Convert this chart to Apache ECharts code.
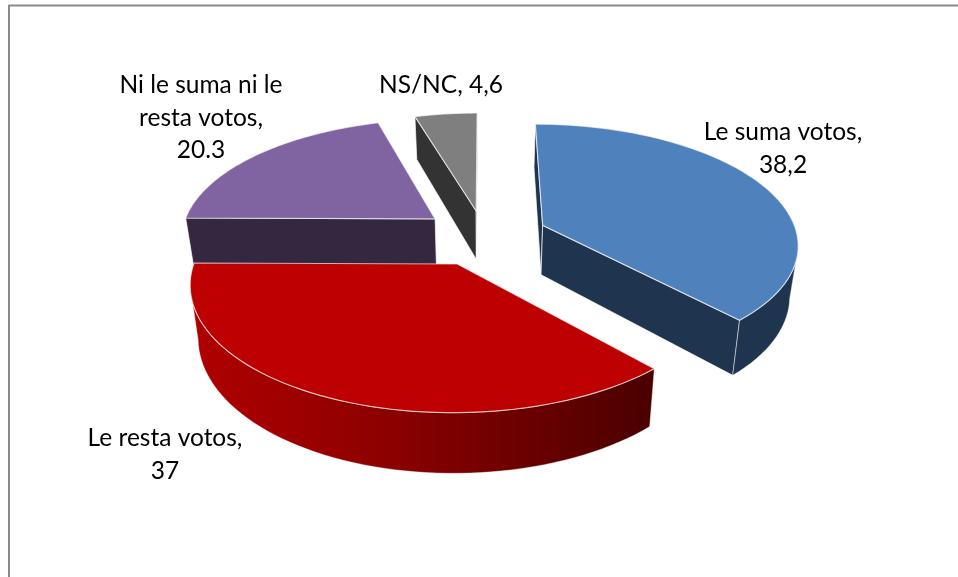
<!DOCTYPE html>
<html><head><meta charset="utf-8">
<style>html,body{margin:0;padding:0;background:#fff}#c{width:958px;height:577px}</style>
<script src="https://cdn.jsdelivr.net/npm/echarts@6/dist/echarts.min.js"></script>
</head><body><div id="c"></div>
<script>
const categories = ["Le suma votos", "Le resta votos", "Ni le suma ni le resta votos", "NS/NC"];
const values = [38.2, 37, 20.3, 4.6];
const labelLines = [
  ["Le suma votos,", "38,2"],
  ["Le resta votos,", "37"],
  ["Ni le suma ni le", "resta votos,", "20.3"],
  ["NS/NC, 4,6"]
];
const topColors = ["#4f81bd", "#bd0000", "#8064a2", "#7f7f7f"];
const wallColors = ["#1f344f", "#6a0000", "#33283f", "#333333"];
const explode = [0.25, 0.25, 0.245, 0.22];
const labelPos = [[783, 116, "center"], [165, 422, "center"], [201, 69, "center"], [441, 69, "center"]];
const drawOrder = [3, 2, 0, 1];

const CX = 484, CY = 236, RPX = 255, KY = 0.465, D = 7, DEPTH = 50, CONV = 0.027;
const total = values.reduce((a, b) => a + b, 0);
function proj(x, d, z) {
  const s = D / (D - d);
  return [CX + x * s * RPX * (1 - CONV * z), CY + d * s * KY * RPX + z * DEPTH * s];
}
const starts = [];
values.reduce((acc, v, i) => { starts[i] = acc; return acc + v / total * Math.PI * 2; }, 0);

function renderItem(params, api) {
  const i = api.value(1);
  const a0 = starts[i], a1 = a0 + api.value(0) / total * Math.PI * 2, mid = (a0 + a1) / 2;
  const ox = explode[i] * Math.sin(mid), od = -explode[i] * Math.cos(mid);
  const steps = 64, rim = [];
  for (let k = 0; k <= steps; k++) {
    const a = a0 + (a1 - a0) * k / steps;
    rim.push([ox + Math.sin(a), od - Math.cos(a)]);
  }
  const p = (w, z) => proj(w[0], w[1], z);
  const apex = [ox, od];
  const edge = 'rgba(255,255,255,0.65)';
  const poly = (pts, fill, strokeW) => ({
    type: 'polygon', shape: { points: pts },
    style: { fill, stroke: edge, lineWidth: strokeW === undefined ? 1 : strokeW }
  });
  const first = rim[0], last = rim[rim.length - 1];
  const children = [];
  // A boundary edge walked clockwise shows its wall only while it runs leftward on screen.
  if (p(first, 0)[0] < p(apex, 0)[0]) {
    children.push(poly([p(apex, 0), p(first, 0), p(first, 1), p(apex, 1)], wallColors[i]));
  }
  if (p(apex, 0)[0] < p(last, 0)[0]) {
    children.push(poly([p(apex, 0), p(last, 0), p(last, 1), p(apex, 1)], wallColors[i]));
  }
  const front = rim.filter((w, k) => {
    const n = rim[Math.min(k + 1, steps)], b = rim[Math.max(k - 1, 0)];
    return p(n, 0)[0] < p(b, 0)[0];
  });
  if (front.length > 1) {
    const outer = front.map(w => p(w, 0)).concat(front.slice().reverse().map(w => p(w, 1)));
    let wallFill = wallColors[i];
    if (i === 1) {
      wallFill = new echarts.graphic.LinearGradient(0, 0, 1, 0, [
        { offset: 0, color: '#b00000' }, { offset: 0.45, color: '#8a0000' }, { offset: 1, color: '#4a0000' }
      ]);
    }
    children.push(poly(outer, wallFill, 0.6));
  }
  children.push(poly([p(apex, 0)].concat(rim.map(w => p(w, 0))), topColors[i], 1.2));
  return { type: 'group', children };
}

const chart = echarts.init(document.getElementById('c'), null, { renderer: 'canvas' });
chart.setOption({
  animation: false,
  backgroundColor: '#fff',
  graphic: [
    { type: 'line', silent: true, shape: { x1: 8.5, y1: 5.5, x2: 958, y2: 5.5 }, style: { stroke: '#8a8a8a', lineWidth: 2 } },
    { type: 'line', silent: true, shape: { x1: 9, y1: 5, x2: 9, y2: 577 }, style: { stroke: '#8a8a8a', lineWidth: 2 } }
  ].concat(labelLines.map((lines, i) => ({
    type: 'text', silent: true, z: 10, x: labelPos[i][0], y: labelPos[i][1],
    style: { text: lines.join('\n'), font: '24.5px Lato', lineHeight: 32.5, fill: '#000', align: labelPos[i][2], verticalAlign: 'top' }
  }))),
  series: [{
    type: 'custom',
    coordinateSystem: 'none',
    silent: true,
    renderItem,
    data: drawOrder.map(i => ({ name: categories[i], value: [values[i], i] }))
  }]
});
</script></body></html>
